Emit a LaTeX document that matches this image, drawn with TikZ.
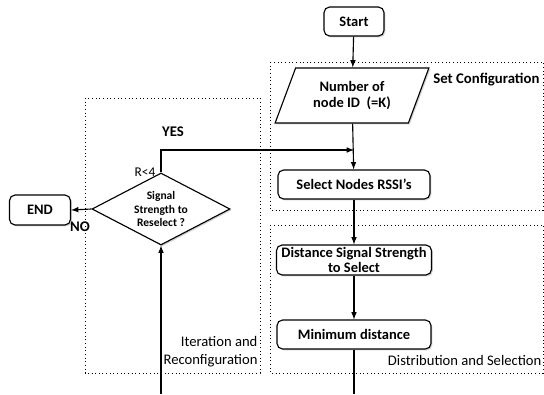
\documentclass[tikz,border=0pt]{standalone}
\usepackage{fontspec}
\setmainfont{Carlito}
\usetikzlibrary{arrows,shapes,shadows,positioning}

\tikzset{
  box/.style={draw, thick, rounded corners=4pt, fill=white, align=center,
    font=\bfseries\fontsize{10.3}{11.5}\selectfont, inner sep=1pt,
    drop shadow={opacity=0.35, shadow xshift=1pt, shadow yshift=-1pt}},
  frame/.style={dotted, line width=0.6pt},
  lbl/.style={font=\bfseries\fontsize{10.5}{12}\selectfont, inner sep=0pt},
}

\begin{document}
\begin{tikzpicture}[x=0.025cm, y=-0.025cm, >=latex, thick]
  \useasboundingbox (0,0) rectangle (544,394);

  % group frames
  \draw[frame] (270,62) rectangle (543,210);
  \draw[frame] (270,225) rectangle (543,373);
  \draw[frame] (85,98) rectangle (260,373);

  \node[box, minimum width=1.5cm, minimum height=0.725cm] (start) at (354,21.5) {Start};
  \node[box, shape=trapezium, trapezium left angle=65, trapezium right angle=115,
        trapezium stretches=true, rounded corners=0pt,
        minimum width=3.85cm, minimum height=1.375cm] (numid) at (352,95.5) {Number of\\node ID\ \ (=K)};
  \node[box, minimum width=3.8cm, minimum height=0.725cm] (selrssi) at (354,184.5) {Select Nodes RSSI's};
  \node[box, minimum width=3.875cm, minimum height=0.75cm, font=\bfseries\fontsize{10.3}{10.5}\selectfont] (dist) at (354,260) {Distance Signal Strength\\to Select};
  \node[box, minimum width=3.85cm, minimum height=0.725cm] (mindist) at (354,334.5) {Minimum distance};
  \node[box, shape=diamond, rounded corners=0pt, aspect=1.92, inner sep=0pt,
        minimum width=3.45cm, minimum height=1.8cm,
        font=\bfseries\fontsize{8.2}{9.5}\selectfont] (reselect) at (161,209) {Signal\\Strength to\\Reselect ?};
  \node[box, minimum width=1.525cm, minimum height=0.75cm] (finish) at (40,210) {END};

  \coordinate (join) at (354,150);
  \coordinate (loopin) at (161,394);
  \coordinate (out) at (354,394);

  % labels
  \node[lbl, anchor=east] (setcfg) at (540,80) {Set Configuration};
  \node[lbl] (yes) at (173,132) {YES};
  \node[lbl, font=\fontsize{9.5}{10}\selectfont] (rless) at (145,172) {R<4};
  \node[lbl] (no) at (80,227) {NO};
  \node[lbl, font=\fontsize{10.4}{13}\selectfont, align=right, anchor=south east] (iterlbl) at (258,368) {Iteration and\\Reconfiguration};
  \node[lbl, font=\fontsize{10.4}{12}\selectfont, anchor=east] (distlbl) at (542,360) {Distribution and Selection};

  % connectors
  \draw[->] (start) -- (numid);
  \draw[->] (numid) -- (selrssi);
  \draw[->] (selrssi) -- (dist);
  \draw[->] (dist) -- (mindist);
  \draw (mindist) -- (out);
  \draw[->] (loopin) -- (reselect.south);
  \draw[->] (reselect.north) |- (join);
  \draw[->] (reselect.west) -- (finish.east);
\end{tikzpicture}
\end{document}
